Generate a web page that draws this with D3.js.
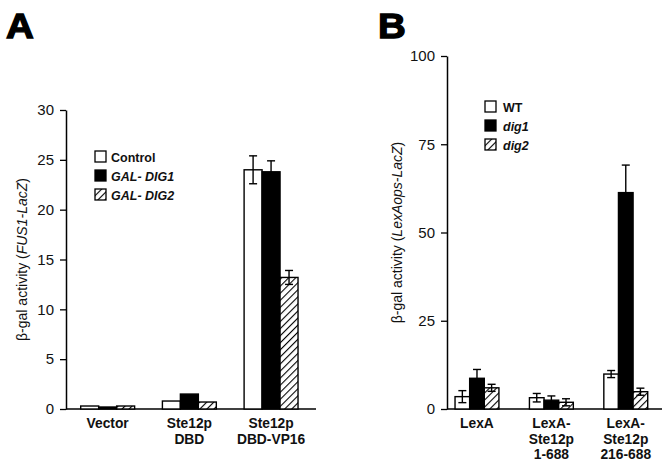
<!DOCTYPE html>
<html>
<head>
<meta charset="utf-8">
<script src="https://cdn.jsdelivr.net/npm/d3@7"></script>
<style>
  body { margin: 0; background: #fff; }
  svg { font-family: "Liberation Sans", Arial, sans-serif; }
</style>
</head>
<body>
<div id="chart"></div>
<script>
// panel A
const catsA = [["Vector"], ["Ste12p", "DBD"], ["Ste12p", "DBD-VP16"]];
const seriesA = ["Control", "GAL- DIG1", "GAL- DIG2"];
const controlA = [0.3, 0.8, 24.0];
const dig1A = [0.2, 1.5, 23.8];
const dig2A = [0.3, 0.7, 13.2];
const controlErrA = [null, null, 1.4];
const dig1ErrA = [null, null, 1.1];
const dig2ErrA = [null, null, 0.7];
const ticksA = [0, 5, 10, 15, 20, 25, 30];

// panel B
const catsB = [["LexA"], ["LexA-", "Ste12p", "1-688"], ["LexA-", "Ste12p", "216-688"]];
const seriesB = ["WT", "dig1", "dig2"];
const wtB = [3.5, 3.2, 9.9];
const dig1B = [8.7, 2.5, 61.3];
const dig2B = [6.0, 1.9, 4.9];
const wtErrB = [1.7, 1.2, 1.0];
const dig1ErrB = [2.5, 1.2, 7.8];
const dig2ErrB = [1.0, 1.0, 1.0];
const ticksB = [0, 25, 50, 75, 100];

const W = 667, H = 464;
const fills = ["#fff", "#000", "url(#hatch)"];

const svg = d3.select("#chart").append("svg")
  .attr("width", W).attr("height", H);

const defs = svg.append("defs");
const hatch = defs.append("pattern")
  .attr("id", "hatch")
  .attr("patternUnits", "userSpaceOnUse")
  .attr("width", 5).attr("height", 5)
  .attr("patternTransform", "rotate(45)");
hatch.append("rect").attr("width", 5).attr("height", 5).attr("fill", "#fff");
hatch.append("line")
  .attr("x1", 0).attr("y1", 0).attr("x2", 0).attr("y2", 5)
  .attr("stroke", "#000").attr("stroke-width", 2.2);

function drawPanel(o) {
  const g = svg.append("g");

  const y = d3.scaleLinear().domain([0, o.ymax]).range([o.bottom, o.top]);
  const x = d3.scaleBand().domain(d3.range(o.cats.length))
    .range([o.left, o.right]).paddingInner(o.padIn).paddingOuter(o.padOut).align(o.align);
  const xs = d3.scaleBand().domain(d3.range(o.series.length)).range([0, x.bandwidth()]);

  // panel letter, heavy like the original
  g.append("text")
    .attr("transform", `translate(${o.letterX},38) scale(1.1,1)`)
    .attr("font-size", 35).attr("font-weight", "bold")
    .attr("stroke", "#000").attr("stroke-width", 1.3)
    .text(o.letter);

  // y axis
  const yAxis = g.append("g")
    .attr("transform", `translate(${o.left},0)`)
    .call(d3.axisLeft(y).tickValues(o.ticks).tickSize(6).tickPadding(6).tickSizeOuter(0));
  yAxis.select(".domain").attr("stroke-width", 1.5);
  yAxis.selectAll(".tick line").attr("stroke-width", 1.3);
  yAxis.selectAll(".tick text").attr("font-size", 15).attr("font-family", "Liberation Sans, Arial, sans-serif").attr("fill", "#111");

  // x baseline
  g.append("line")
    .attr("x1", o.left).attr("x2", o.right)
    .attr("y1", y(0)).attr("y2", y(0))
    .attr("stroke", "#000").attr("stroke-width", 1.5);

  // y title
  const yt = g.append("text")
    .attr("transform", `translate(${o.titleX},${(o.top + o.bottom) / 2}) rotate(-90)`)
    .attr("text-anchor", "middle")
    .attr("font-size", 14).attr("fill", "#111");
  yt.append("tspan").text("β-gal activity (");
  yt.append("tspan").attr("font-style", "italic").text(o.titleItalic);
  yt.append("tspan").text(")");

  // bars
  o.values.forEach((vals, s) => {
    g.selectAll(null)
      .data(vals.map((v, i) => ({ v, i })))
      .join("rect")
      .attr("x", d => x(d.i) + xs(s))
      .attr("y", d => y(d.v))
      .attr("width", xs.bandwidth())
      .attr("height", d => y(0) - y(d.v))
      .attr("fill", fills[s])
      .attr("stroke", "#000")
      .attr("stroke-width", 1.4);
  });

  // error bars (up and down, the down half hides in black bars)
  o.values.forEach((vals, s) => {
    const eb = vals.map((v, i) => ({ v, i, e: o.errors[s][i] })).filter(d => d.e != null);
    const cx = d => x(d.i) + xs(s) + xs.bandwidth() / 2;
    g.selectAll(null).data(eb).join("line")
      .attr("x1", cx).attr("x2", cx)
      .attr("y1", d => y(d.v - d.e)).attr("y2", d => y(d.v + d.e))
      .attr("stroke", "#000").attr("stroke-width", 1.4);
    [1, -1].forEach(sign => {
      g.selectAll(null).data(eb).join("line")
        .attr("x1", d => cx(d) - o.cap).attr("x2", d => cx(d) + o.cap)
        .attr("y1", d => y(d.v + sign * d.e)).attr("y2", d => y(d.v + sign * d.e))
        .attr("stroke", "#000").attr("stroke-width", 1.4);
    });
  });

  // category labels, each line its own text
  o.cats.forEach((lines, i) => {
    lines.forEach((ln, k) => {
      g.append("text")
        .attr("x", x(i) + x.bandwidth() / 2)
        .attr("y", y(0) + 19 + k * 15.5)
        .attr("text-anchor", "middle")
        .attr("font-size", 13.8).attr("font-weight", "bold").attr("fill", "#111")
        .text(ln);
    });
  });

  // legend
  const leg = g.append("g").attr("transform", `translate(${o.legX},${o.legY})`);
  o.series.forEach((name, s) => {
    const row = leg.append("g").attr("transform", `translate(0,${s * 19})`);
    row.append("rect")
      .attr("x", 0).attr("y", -6).attr("width", 11).attr("height", 11)
      .attr("fill", fills[s]).attr("stroke", "#000").attr("stroke-width", 1.3);
    row.append("text")
      .attr("x", o.legTextDx).attr("y", 4.5)
      .attr("font-size", 12.5).attr("font-weight", "bold")
      .attr("font-style", o.legItalic[s] ? "italic" : "normal")
      .attr("fill", "#111")
      .text(name);
  });
}

drawPanel({
  letter: "A", letterX: 6,
  cats: catsA, series: seriesA,
  values: [controlA, dig1A, dig2A],
  errors: [controlErrA, dig1ErrA, dig2ErrA],
  ticks: ticksA, ymax: 30,
  left: 66, right: 316, top: 110, bottom: 409,
  padIn: 0.34, padOut: 0.2, align: 0.45, cap: 4,
  titleX: 27, titleItalic: "FUS1-LacZ",
  legX: 95, legY: 157, legTextDx: 16, legItalic: [false, true, true]
});

drawPanel({
  letter: "B", letterX: 378,
  cats: catsB, series: seriesB,
  values: [wtB, dig1B, dig2B],
  errors: [wtErrB, dig1ErrB, dig2ErrB],
  ticks: ticksB, ymax: 100,
  left: 447, right: 662, top: 56, bottom: 409,
  padIn: 0.41, padOut: 0.15, align: 0.36, cap: 4,
  titleX: 402, titleItalic: "LexAops-LacZ",
  legX: 485, legY: 107, legTextDx: 18, legItalic: [false, true, true]
});
</script>
</body>
</html>
